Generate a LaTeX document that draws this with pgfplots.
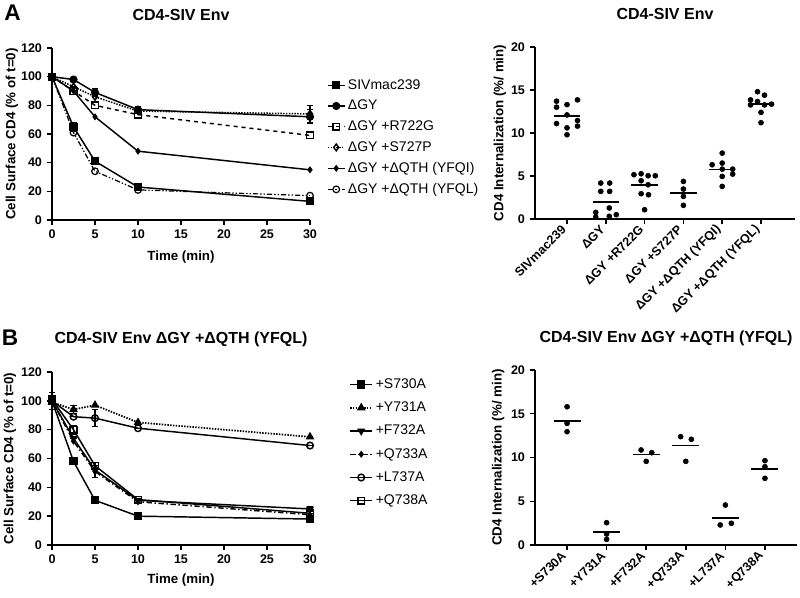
\documentclass[border=0pt]{standalone}
\usepackage{pgfplots}
\pgfplotsset{compat=1.18}
\usepackage{fontspec}
\setmainfont{Liberation Sans}

\newcommand{\tickfont}{\bfseries\fontsize{9.4}{11}\selectfont}
\newcommand{\labfont}{\bfseries\fontsize{10}{12}\selectfont}
\newcommand{\titfont}{\bfseries\fontsize{12}{14}\selectfont}
\newcommand{\legfont}{\fontsize{10.5}{12.5}\selectfont}

\pgfplotsset{
  prism/.style={
    scale only axis,
    axis lines=left,
    axis line style={line width=1.2pt,-},
    tick style={line width=1.1pt,black},
    tick align=outside,
    major tick length=4pt,
    clip=false,
    /pgf/number format/assume math mode=true,
    tick label style={font=\tickfont},
    title style={font=\titfont,at={(0.5,1)},anchor=center,yshift=18.5pt},
    label style={font=\labfont},
  },
  timecourse/.style={
    prism,
    width=193.5pt,
    xmin=0, xmax=30, ymin=0, ymax=120,
    xtick={0,5,...,30}, ytick={0,20,...,120},
    xlabel={Time (min)},
    ylabel={Cell Surface CD4 (\% of t=0)},
    every axis plot/.append style={line width=1.1pt,black,mark size=2.5pt},
    error bars/error bar style={line width=0.8pt,solid},
    error bars/error mark options={rotate=90,mark size=2.5pt,line width=0.8pt,solid},
    legend cell align=left,
  },
  internal/.style={
    prism,
    ymin=0, ymax=20, ytick={0,5,...,20},
    xtick={0,...,5},
    xticklabel style={rotate=45,anchor=east},
    ylabel={CD4 Internalization (\%/ min)},
  },
  dots/.style={only marks,mark=*,mark size=1.9pt,black},
  mean/.style={no marks,line width=1.2pt,black,forget plot},
}

\begin{document}
\begin{tikzpicture}
\useasboundingbox (0,0) rectangle (600pt,-448.5pt);

\node[font=\bfseries\fontsize{17}{17}\selectfont] at (9.4pt,-9.4pt) {A};
\node[font=\bfseries\fontsize{17}{17}\selectfont] at (7.5pt,-253.5pt) {B};

% ---- A, time course
\begin{axis}[timecourse,
  at={(39pt,-165pt)}, height=129pt,
  title={CD4-SIV Env},
  xlabel style={at={(axis description cs:0.5,0)},anchor=center,yshift=-27.75pt},
  ylabel style={at={(axis description cs:-0.155,0.5)},anchor=center},
  legend style={at={(axis description cs:1.05,0.85)},anchor=north west,
    draw=none,fill=none,font=\legfont,row sep=2.7pt},
  legend image code/.code={\draw[mark repeat=2,mark phase=2]
    plot coordinates {(0cm,0cm) (0.22cm,0cm) (0.44cm,0cm)};},
]
\addplot[mark=square*,error bars/.cd,y dir=both,y explicit] coordinates {
  (0,100) +- (0,0) (2.5,65) +- (0,3) (5,41) +- (0,1) (10,23) +- (0,1) (30,13) +- (0,1)};
\addlegendentry{SIVmac239}
\addplot[mark=*,error bars/.cd,y dir=both,y explicit] coordinates {
  (0,100) +- (0,0) (2.5,98) +- (0,1) (5,89) +- (0,2.5) (10,77) +- (0,2.5) (30,72) +- (0,5)};
\addlegendentry{ΔGY}
\addplot[dashed,mark=square,mark options={solid,fill=white}] coordinates {
  (0,100) (2.5,90) (5,80) (10,73.5) (30,59)};
\addlegendentry{ΔGY +R722G}
\addplot[densely dotted,mark=diamond,mark options={solid,fill=white},
  error bars/.cd,y dir=both,y explicit] coordinates {
  (0,100) +- (0,0) (2.5,93) +- (0,0) (5,86) +- (0,0) (10,76) +- (0,0) (30,74) +- (0,6)};
\addlegendentry{ΔGY +S727P}
\addplot[mark=diamond*,mark size=1.8pt] coordinates {
  (0,100) (2.5,90) (5,72) (10,48) (30,35)};
\addlegendentry{ΔGY +ΔQTH (YFQI)}
\addplot[line width=0.9pt,dash pattern=on 4pt off 1.5pt on 1pt off 1.5pt on 1pt off 1.5pt,
  mark=o,mark options={solid,fill=white}] coordinates {
  (0,100) (2.5,61) (5,34) (10,21) (30,17)};
\addlegendentry{ΔGY +ΔQTH (YFQL)}
\end{axis}

% ---- A, internalization
\begin{axis}[internal,
  at={(401.25pt,-164.25pt)}, width=195pt, height=129pt,
  xmin=-0.825, xmax=5.876,
  title={CD4-SIV Env},
  ylabel style={at={(axis description cs:-0.135,0.5)},anchor=center},
  xticklabels={SIVmac239,ΔGY,ΔGY +R722G,ΔGY +S727P,ΔGY +ΔQTH (YFQI),ΔGY +ΔQTH (YFQL)},
]
\addplot[dots] coordinates {
  (-0.27,13.7) (0,13.3) (0.27,13.85) (-0.27,13.0) (0,12.1)
  (-0.27,11.1) (0.27,11.45) (0.27,10.8) (0,10.6) (0,9.8)
  (0.87,4.18) (1.10,4.18) (0.87,3.21) (1.10,3.21) (0.74,0.77)
  (1.09,1.28) (0.74,0.23) (1.09,0.31) (1.27,0.5)
  (1.725,5.15) (1.91,5.26) (2.09,5.03) (2.275,5.03) (1.91,4.45)
  (2.09,3.98) (1.91,2.94) (2.10,2.82) (2,1.08)
  (3,4.37) (3,3.48) (3,2.63) (3,1.59)
  (4,7.66) (3.74,6.31) (4,6.5) (4,5.8) (4.27,5.8) (4.27,5.22) (4,4.95) (4,3.79)
  (4.91,14.8) (5.09,14.4) (4.73,13.85) (4.91,13.66) (4.73,13.27)
  (5.09,13.27) (5.27,13.35) (5,12.4) (5,11.2)};
\addplot[mean] coordinates {(-0.34,11.97) (0.34,11.97)};
\addplot[mean] coordinates {(0.66,1.99) (1.34,1.99)};
\addplot[mean] coordinates {(1.66,3.97) (2.34,3.97)};
\addplot[mean] coordinates {(2.66,3.02) (3.34,3.02)};
\addplot[mean] coordinates {(3.66,5.75) (4.34,5.75)};
\addplot[mean] coordinates {(4.66,13.36) (5.34,13.36)};
\end{axis}

% ---- B, time course
\begin{axis}[timecourse,
  at={(39pt,-408.75pt)}, height=129.75pt,
  title={CD4-SIV Env ΔGY +ΔQTH (YFQL)},
  xlabel style={at={(axis description cs:0.5,0)},anchor=center,yshift=-26.25pt},
  ylabel style={at={(axis description cs:-0.163,0.5)},anchor=center},
  legend style={at={(axis description cs:1.136,0.994)},anchor=north west,
    draw=none,fill=none,font=\legfont,row sep=4.6pt},
  legend image code/.code={\draw[mark repeat=2,mark phase=2]
    plot coordinates {(0cm,0cm) (0.29cm,0cm) (0.58cm,0cm)};},
]
\addplot[mark=square*] coordinates {
  (0,100) (2.5,58) (5,31) (10,20) (30,18)};
\addlegendentry{+S730A}
\addplot[densely dotted,line width=1.3pt,mark=triangle*,mark options={solid},
  error bars/.cd,y dir=both,y explicit] coordinates {
  (0,99) +- (0,0) (2.5,94) +- (0,3) (5,97) +- (0,0) (10,85) +- (0,0) (30,75) +- (0,0)};
\addlegendentry{+Y731A}
\addplot[mark=triangle*,mark options={rotate=180},
  error bars/.cd,y dir=both,y explicit] coordinates {
  (0,100) +- (0,0) (2.5,74) +- (0,0) (5,52) +- (0,5) (10,31) +- (0,0) (30,25) +- (0,2)};
\addlegendentry{+F732A}
\addplot[dash pattern=on 4pt off 2pt on 1pt off 2pt,mark=diamond*,mark size=1.8pt,
  mark options={solid}] coordinates {
  (0,100) (2.5,72) (5,51) (10,30) (30,21)};
\addlegendentry{+Q733A}
\addplot[mark=o,mark options={fill=white},
  error bars/.cd,y dir=both,y explicit] coordinates {
  (0,100) +- (0,6) (2.5,89) +- (0,0) (5,88) +- (0,6) (10,81) +- (0,0) (30,69) +- (0,0)};
\addlegendentry{+L737A}
\addplot[mark=square,mark options={fill=white},
  error bars/.cd,y dir=both,y explicit] coordinates {
  (0,101) +- (0,2) (2.5,80) +- (0,3) (5,55) +- (0,0) (10,31.5) +- (0,0) (30,22) +- (0,0)};
\addlegendentry{+Q738A}
\end{axis}

% ---- B, internalization
\begin{axis}[internal,
  at={(401.25pt,-408.75pt)}, width=196.5pt, height=131.25pt,
  xmin=-0.81, xmax=5.81,
  title={CD4-SIV Env ΔGY +ΔQTH (YFQL)},
  title style={yshift=-1pt},
  ylabel style={at={(axis description cs:-0.141,0.5)},anchor=center},
  xticklabels={+S730A,+Y731A,+F732A,+Q733A,+L737A,+Q738A},
]
\addplot[dots] coordinates {
  (0,15.8) (0,13.9) (0,12.95)
  (1,2.55) (1,1.26) (1,0.65)
  (1.87,10.86) (2.14,10.55) (2,9.56)
  (2.87,12.38) (3.14,12.08) (3,9.56)
  (4,4.57) (3.87,2.29) (4.15,2.48)
  (5,9.64) (5,8.95) (5,7.62)};
\addplot[mean] coordinates {(-0.34,14.2) (0.34,14.2)};
\addplot[mean] coordinates {(0.66,1.52) (1.34,1.52)};
\addplot[mean] coordinates {(1.66,10.36) (2.34,10.36)};
\addplot[mean] coordinates {(2.66,11.35) (3.34,11.35)};
\addplot[mean] coordinates {(3.66,3.12) (4.34,3.12)};
\addplot[mean] coordinates {(4.66,8.72) (5.34,8.72)};
\end{axis}
\end{tikzpicture}
\end{document}
